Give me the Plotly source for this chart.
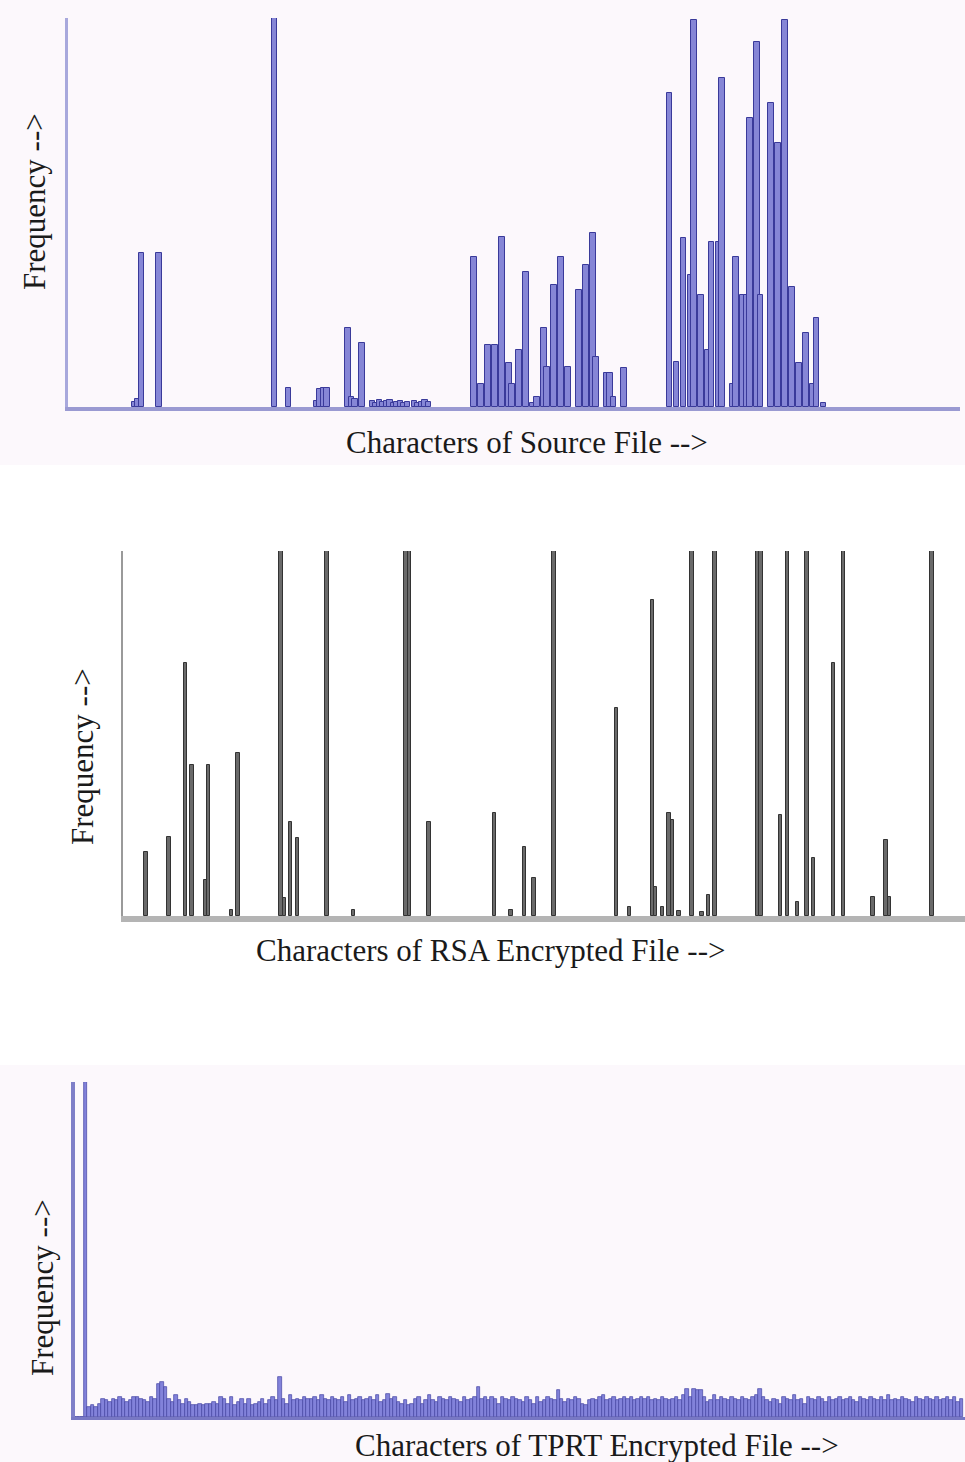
import plotly.graph_objects as go

# ---------------- data ----------------
# Panel 1: character frequency of the source file (character code -> relative frequency, max = 100)
src_codes = [19, 20, 21, 26, 59, 63, 71, 72, 73, 74, 80, 81, 82, 84,
             87, 88, 89, 90, 91, 92, 93, 94, 95, 96, 97, 99, 100, 101, 102, 103,
             116, 118, 120, 122, 124, 126, 127, 129, 131, 133, 134, 136, 137, 139,
             141, 143, 146, 148, 150, 151, 154, 155, 156, 159,
             172, 174, 176, 178, 179, 181, 183, 184, 186, 187, 190, 191, 193, 194,
             195, 197, 198, 201, 203, 205, 207, 209, 211, 213, 214, 216]
src_freq = [1.2, 2, 39.6, 39.6, 100, 4.9, 1.5, 4.5, 5, 5, 20.3, 2.5, 2, 16.5,
            1.5, 1, 1.8, 1.2, 1.5, 1.8, 1, 1.3, 1.5, 1, 1.2, 1.5, 1, 1.3, 1.8, 1.2,
            38.5, 6, 16, 16, 43.7, 11.3, 6, 14.7, 34.7, 1, 2.6, 20.3, 10.3, 31.4,
            38.6, 10.3, 30, 36.5, 44.7, 12.9, 8.7, 8.7, 2.6, 10,
            80.7, 11.6, 43.4, 34, 99.5, 28.8, 14.7, 42.4, 42.4, 84.6, 6, 38.6, 28.8, 28.8,
            74.3, 93.8, 28.8, 78.1, 67.9, 99.5, 30.8, 11.3, 19, 6, 22.9, 1]

# Panel 2: RSA encrypted file
rsa_codes = [7, 14, 19, 21, 25, 26, 33, 35, 48, 49, 51, 53, 62, 70, 86, 87, 93,
             113, 118, 122, 125, 131, 150, 154, 161, 162, 164, 166, 167, 169,
             173, 176, 178, 180, 193, 194, 200, 202, 205, 208, 210, 216, 219,
             228, 232, 233, 246]
rsa_freq = [17.5, 21.6, 69.3, 41.4, 9.9, 41.4, 1.6, 44.7, 100, 4.9, 25.8, 21.4, 100, 1.6, 100, 100, 25.8,
            28.2, 1.6, 18.9, 10.4, 100, 57, 2.5, 86.6, 7.9, 2.5, 28.2, 26.3, 1.5,
            100, 1, 5.8, 100, 100, 100, 27.7, 100, 3.8, 100, 15.9, 69.3, 100,
            5.2, 20.8, 5.2, 100]

# Panel 3: TPRT encrypted file (codes 0..255)
tprt_freq = [
    0, 0, 0, 100,
    3, 3.5, 3, 4, 5.5, 5, 4.5, 5.5, 5, 6, 5.5, 4.5, 5, 6, 6, 5.5,
    5, 4.5, 6, 5.5, 10, 10.5, 9, 5.5, 4.5, 6.5, 5, 4, 5.5, 4.5, 3.5, 3.5,
    4, 3.5, 4, 4, 4.5, 4, 6, 5.5, 4, 6, 3.5, 4.5, 5.5, 4, 5.5, 3.5,
    4, 4.5, 5.5, 4, 5, 6, 5, 12, 5.5, 4, 6.5, 5, 5.5, 5, 6, 5.5,
    5.5, 6, 5, 6.5, 5.5, 5, 6, 5.5, 5, 6, 4.5, 6.5, 5, 5.5, 6, 5,
    5.5, 6, 5, 6.5, 4.5, 5, 7, 5.5, 6, 4.5, 4, 5, 3.5, 4, 5.5, 6,
    4, 5, 6.5, 5, 4.5, 6, 5.5, 5, 6, 5.5, 5, 4.5, 6, 5, 5.5, 6,
    9, 5.5, 6, 5, 6, 5.5, 4, 6, 5.5, 5, 6, 5.5, 5, 4.5, 6, 5,
    4, 6, 4.5, 5, 6, 5.5, 5, 8, 5.5, 4.5, 5.5, 5, 6, 5.5, 4, 3.5,
    5, 5.5, 5, 6, 6.5, 5, 5.5, 6, 5, 5.5, 6, 5.5, 6, 5, 5.5, 6,
    5.5, 6, 5, 5.5, 5, 6, 5.5, 5, 5.5, 6, 5, 6.5, 8.5, 6, 8.5, 8,
    8, 6, 4.5, 5, 6.5, 5, 6, 5.5, 5, 6, 5.5, 5, 6, 5.5, 5, 6,
    6.5, 8.5, 6, 5, 4.5, 5.5, 5, 4, 6, 5.5, 5, 6.5, 5, 5.5, 4, 6,
    5.5, 5, 6, 5.5, 4.5, 6, 5, 5.5, 6, 5, 5.5, 6, 5, 4.5, 6, 5.5,
    5, 6, 5.5, 5, 6, 5, 6.5, 5, 5.5, 5, 6, 5.5, 5, 4.5, 6, 5.5,
    5, 6, 5.5, 5, 6, 5, 5.5, 6, 5, 6, 4.5, 5.5,
]
tprt_codes = list(range(len(tprt_freq)))

titles_y = ["Frequency -->", "Frequency -->", "Frequency -->"]
titles_x = ["Characters of Source File -->",
            "Characters of RSA Encrypted File -->",
            "Characters of TPRT Encrypted File -->"]

# ---------------- figure ----------------
W, H = 965, 1462


def px_x(p):
    return p / W


def px_y(p):
    return 1 - p / H


fig = go.Figure()

fig.add_trace(go.Bar(x=src_codes, y=src_freq, width=1.6,
                     marker=dict(color="#8686d6", line=dict(color="#3a3a9a", width=1)),
                     xaxis="x", yaxis="y", showlegend=False))
fig.add_trace(go.Bar(x=rsa_codes, y=rsa_freq, width=1.0,
                     marker=dict(color="#6a6a6a", line=dict(color="#333333", width=1)),
                     xaxis="x2", yaxis="y2", showlegend=False))
fig.add_trace(go.Bar(x=tprt_codes, y=tprt_freq, width=1.0,
                     marker=dict(color="#8282da", line=dict(color="#4444a4", width=0.7)),
                     xaxis="x3", yaxis="y3", showlegend=False))

common_x = dict(showgrid=False, zeroline=False, showticklabels=False, ticks="",
                showline=True, fixedrange=True)
common_y = dict(showgrid=False, zeroline=False, showticklabels=False, ticks="",
                showline=True, range=[0, 100], fixedrange=True)

serif = "Liberation Serif, Times New Roman, serif"

fig.update_layout(
    width=W, height=H,
    margin=dict(l=0, r=0, t=0, b=0),
    paper_bgcolor="white",
    plot_bgcolor="rgba(0,0,0,0)",
    bargap=0,
    font=dict(family=serif, color="#1a1a1a"),
    xaxis=dict(common_x, domain=[px_x(68), px_x(960)], range=[0, 255], anchor="y",
               linecolor="#9a9ad2", linewidth=4),
    yaxis=dict(common_y, domain=[px_y(407), px_y(18)], anchor="x",
               linecolor="#a8a8dc", linewidth=3),
    xaxis2=dict(common_x, domain=[px_x(123), 1.0], range=[0, 256], anchor="y2",
                linecolor="#b4b4b4", linewidth=6),
    yaxis2=dict(common_y, domain=[px_y(916), px_y(551)], anchor="x2",
                linecolor="#9a9a9a", linewidth=2),
    xaxis3=dict(common_x, domain=[px_x(75), 1.0], range=[0, 256], anchor="y3",
                linecolor="#7878c4", linewidth=3),
    yaxis3=dict(common_y, domain=[px_y(1417), px_y(1082)], anchor="x3",
                linecolor="#7f7fc8", linewidth=4),
)

# light lavender backgrounds of the first and third panels
fig.add_shape(type="rect", xref="paper", yref="paper", x0=0, x1=1,
              y0=px_y(465), y1=1, fillcolor="#fcf8fc", line_width=0, layer="below")
fig.add_shape(type="rect", xref="paper", yref="paper", x0=0, x1=1,
              y0=0, y1=px_y(1065), fillcolor="#fcf8fc", line_width=0, layer="below")

# axis titles
ytitle_pos = [(35, 202), (82, 757), (42, 1288)]
xtitle_pos = [(527, 442), (490, 950), (597, 1445)]
for t, (x, y) in zip(titles_y, ytitle_pos):
    fig.add_annotation(text=t, xref="paper", yref="paper", x=px_x(x), y=px_y(y),
                       showarrow=False, textangle=-90, xanchor="center", yanchor="middle",
                       font=dict(family=serif, size=31, color="#1a1a1a"))
for t, (x, y) in zip(titles_x, xtitle_pos):
    fig.add_annotation(text=t, xref="paper", yref="paper", x=px_x(x), y=px_y(y),
                       showarrow=False, xanchor="center", yanchor="middle",
                       font=dict(family=serif, size=31, color="#1a1a1a"))

fig.write_html("out.html", config={"displayModeBar": False},
               post_script="document.body.style.margin='0';document.body.style.overflow='hidden';")
